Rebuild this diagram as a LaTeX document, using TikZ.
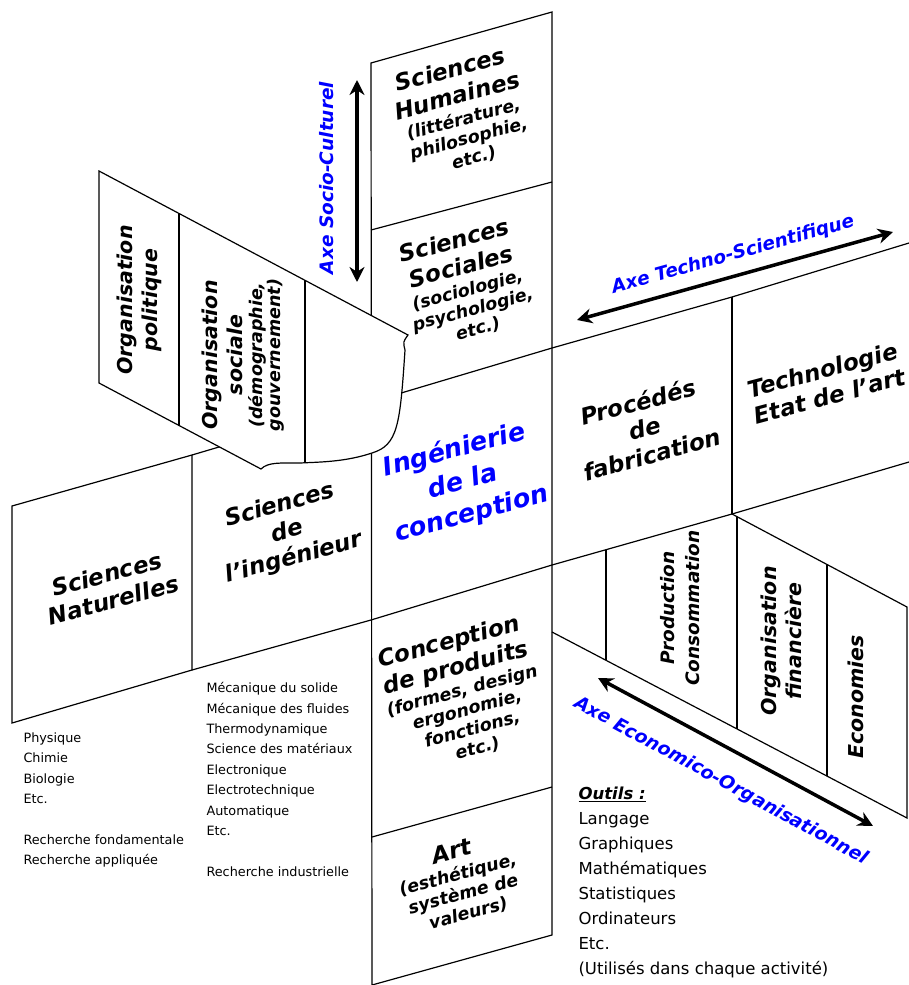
\documentclass[tikz,border=0pt]{standalone}
\usepackage{fontspec}
\setmainfont{DejaVu Sans}
\usepackage{tikz}
\usetikzlibrary{arrows.meta}
\newcommand{\subtxt}{\fontsize{17.5}{20}\selectfont}

\begin{document}
\begin{tikzpicture}[x=1pt,y=-1pt,
  edge/.style={line width=1.2pt},
  biglabel/.style={font=\fontsize{23}{27}\selectfont\bfseries\itshape,align=center},
  sidelabel/.style={font=\fontsize{20.5}{25}\selectfont\bfseries\itshape,align=center,rotate=90},
  axislabel/.style={text=blue,font=\fontsize{18.5}{22}\selectfont\bfseries\itshape},
  axisarrow/.style={line width=3.5pt,{Stealth[length=15pt,width=15pt]}-{Stealth[length=15pt,width=15pt]}},
  listtext/.style={font=\fontsize{12.8}{20.4}\selectfont,align=left,anchor=north west}]
\useasboundingbox (0,0) rectangle (909,985);

% bande horizontale
\draw[edge] (12,506) -- (192,455) -- (192,670) -- (12,723) -- cycle;
\draw[edge] (192,455) -- (371,402) (192,670) -- (371,620);
\draw[edge] (552,348) -- (732,297) -- (909,243);
\draw[edge] (552,565) -- (732,514) -- (909,462);
\draw[edge] (732,297) -- (732,514);

% nappe economique (bas droite)
\draw[edge] (732,514) -- (907,607) -- (907,818) -- (552,632);
\draw[edge] (606,550) -- (606,660);
\draw[edge] (737,517) -- (737,729);
\draw[edge] (827,564) -- (827,776);

% colonne centrale
\draw[edge] (371,63) -- (552,12) -- (552,935) -- (372,985) -- cycle;
\draw[edge] (371,230) -- (552,182);
\draw[edge] (371,402) -- (552,348);
\draw[edge] (371,620) -- (552,565);
\draw[edge] (372,837) -- (552,787);

% feuille repliee (haut gauche)
\draw[edge,fill=white] (99,171) -- (408,335) .. controls (403,342) .. (405,350)
  .. controls (400,425) and (398,445) .. (372,453)
  .. controls (345,462) and (320,462) .. (300,463)
  .. controls (280,463) and (268,462) .. (261,469) -- (99,383) -- cycle;
\draw[edge] (179,213) -- (179,426);
\draw[edge] (305,280) -- (305,463);

% textes de la colonne
\node[biglabel,rotate=15] (humaines) at (462,113) {Sciences\\Humaines\\[-5pt]
  \subtxt (littérature,\\[-7pt]\subtxt philosophie,\\[-7pt]\subtxt etc.)};
\node[biglabel,rotate=15] (sociales) at (466,284) {Sciences\\Sociales\\[-5pt]
  \subtxt (sociologie,\\[-7pt]\subtxt psychologie,\\[-7pt]\subtxt etc.)};
\node[biglabel,rotate=15,text=blue,font=\fontsize{25.5}{33}\selectfont\bfseries\itshape] (ingenierie) at (463,482) {Ingénierie\\de la\\conception};
\node[biglabel,rotate=15] (produits) at (463,694) {Conception\\de produits\\[-5pt]
  \subtxt (formes, design\\[-7pt]\subtxt ergonomie,\\[-7pt]\subtxt fonctions,\\[-7pt]\subtxt etc.)};
\node[biglabel,rotate=15] (art) at (460,882) {Art\\[-5pt]
  \subtxt (esthétique,\\[-7pt]\subtxt système de\\[-7pt]\subtxt valeurs)};

% textes de la bande
\node[biglabel,rotate=15] (naturelles) at (110,587) {Sciences\\Naturelles};
\node[biglabel,rotate=15] (ingenieur) at (287,532) {Sciences\\de\\l’ingénieur};
\node[biglabel,rotate=15] (procedes) at (645,428) {Procédés\\de\\fabrication};
\node[biglabel,rotate=15] (technologie) at (826,383) {Technologie\\Etat de l’art};

% textes verticaux
\node[sidelabel] (politique) at (139,300) {Organisation\\politique};
\node[sidelabel] (sociale) at (243,355) {Organisation\\sociale\\[-5pt]
  \subtxt (démographie,\\[-7pt]\subtxt gouvernement)};
\node[sidelabel,font=\fontsize{18.5}{25}\selectfont\bfseries\itshape] (production) at (680,608) {Production\\Consommation};
\node[sidelabel] (financiere) at (781,641) {Organisation\\financière};
\node[sidelabel] (economies) at (856,697) {Economies};

% axes
\coordinate (socioA) at (357,80);
\coordinate (socioB) at (357,282);
\coordinate (technoA) at (577,320);
\coordinate (technoB) at (893,232);
\coordinate (ecoA) at (598,678);
\coordinate (ecoB) at (873,826);
\draw[axisarrow] (socioA) -- (socioB);
\draw[axisarrow] (technoA) -- (technoB);
\draw[axisarrow] (ecoA) -- (ecoB);
\node[axislabel,rotate=90] (socio) at (327,178) {Axe Socio-Culturel};
\node[axislabel,rotate=15.5] (techno) at (733,255) {Axe Techno-Scientifique};
\node[axislabel,rotate=-28.5] (eco) at (721,781) {Axe Economico-Organisationnel};

% listes
\node[listtext] (naturList) at (20,729) {Physique\\Chimie\\Biologie\\Etc.\\[20.4pt]
  Recherche fondamentale\\Recherche appliquée};
\node[listtext] (ingList) at (203,679) {Mécanique du solide\\Mécanique des fluides\\Thermodynamique\\
  Science des matériaux\\Electronique\\Electrotechnique\\Automatique\\Etc.\\[20.4pt]
  Recherche industrielle};
\node[listtext,font=\fontsize{16.5}{25}\selectfont] (outils) at (575,783)
  {{\bfseries\itshape\underline{Outils :}}\\Langage\\Graphiques\\Mathématiques\\
  Statistiques\\Ordinateurs\\Etc.\\(Utilisés dans chaque activité)};
\end{tikzpicture}
\end{document}
